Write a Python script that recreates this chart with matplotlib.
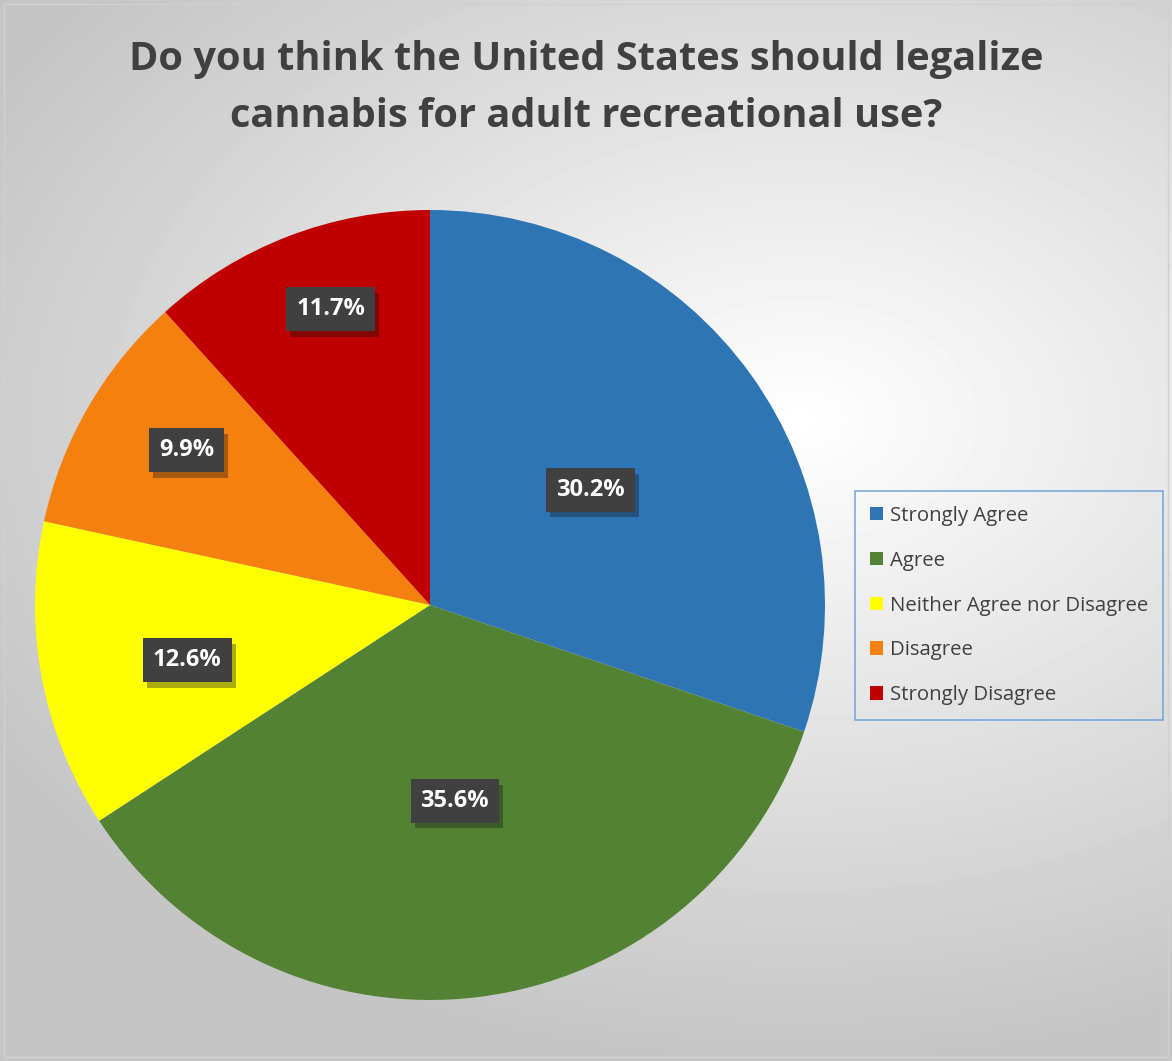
import numpy as np
import matplotlib.pyplot as plt
import matplotlib.patheffects as pe

categories = ["Strongly Agree", "Agree", "Neither Agree nor Disagree",
              "Disagree", "Strongly Disagree"]
shares = [30.2, 35.6, 12.6, 9.9, 11.7]
colors = ["#2e75b6", "#548235", "#ffff00", "#f4800f", "#c00000"]
# label placement: distance from centre (fraction of radius), angle nudge (deg)
label_dist = [0.50, 0.50, 0.63, 0.73, 0.79]
label_nudge = [0, 0, 2.4, -2.4, -2.5]

W, H = 1172, 1061
fig = plt.figure(figsize=(W / 100, H / 100), dpi=100)

# radial background gradient
bg = fig.add_axes([0, 0, 1, 1], zorder=-10)
yy, xx = np.mgrid[0:H, 0:W]
d = np.hypot((xx - 800) / 820.0, (yy - 420) / 560.0)
shade = np.clip(1.0 - 0.2 * d, 0.77, 1.0)
bg.imshow(shade, cmap="gray", vmin=0, vmax=1, extent=[0, W, H, 0], aspect="auto")
bg.set_xlim(0, W)
bg.set_ylim(H, 0)
bg.plot([4, W - 4, W - 4, 4, 4], [4, 4, H - 4, H - 4, 4], color="#d0d0d0", lw=1)
bg.axis("off")

fig.text(0.5, 1 - 88 / H, "Do you think the United States should legalize\ncannabis for adult recreational use?",
         ha="center", va="center", fontsize=28.6, fontweight="bold", color="#404040",
         family="Open Sans", linespacing=1.6)

cx, cy, r = 430, 605, 395
ax = fig.add_axes([(cx - r) / W, (H - cy - r) / H, 2 * r / W, 2 * r / H])
wedges, texts, autotexts = ax.pie(
    shares, colors=colors, startangle=90, counterclock=False, radius=1,
    autopct="%.1f%%", pctdistance=0.5,
    wedgeprops=dict(linewidth=0),
    textprops=dict(color="white", fontsize=17, fontweight="bold", family="Open Sans"))
for w, t, dist, nudge in zip(wedges, autotexts, label_dist, label_nudge):
    ang = np.deg2rad((w.theta1 + w.theta2) / 2 + nudge)
    t.set_position((dist * np.cos(ang), dist * np.sin(ang)))
    t.set_bbox(dict(boxstyle="square,pad=0.42", facecolor="#404040", edgecolor="none"))
    t.get_bbox_patch().set_path_effects([pe.SimplePatchShadow(offset=(3, -4), alpha=0.35), pe.Normal()])
ax.set_xlim(-1, 1)
ax.set_ylim(-1, 1)
ax.set_aspect("equal")
ax.axis("off")

leg = fig.legend(wedges, categories, loc="upper left",
                 bbox_to_anchor=(855 / W, 1 - 491 / H), borderaxespad=0, frameon=True,
                 prop=dict(family="Open Sans", size=14.7), handlelength=0.65,
                 handleheight=0.65, handletextpad=0.35, labelspacing=1.22,
                 borderpad=0.72, fancybox=False, labelcolor="#404040")
leg.get_frame().set_edgecolor("#5b9bd5")
leg.get_frame().set_facecolor("none")
leg.get_frame().set_linewidth(1.2)

fig.savefig("out.png", dpi=100)
